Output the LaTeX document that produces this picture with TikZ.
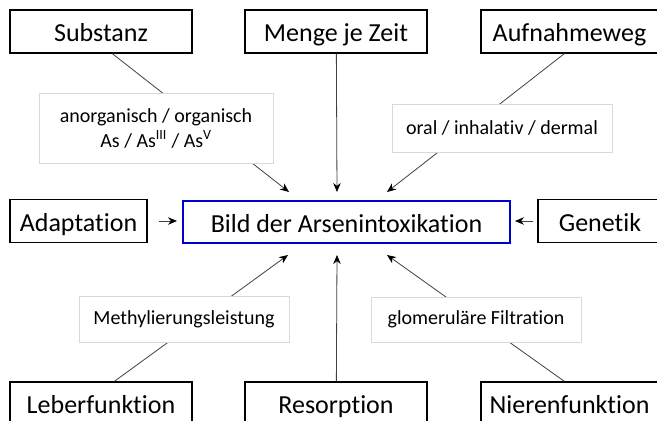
\documentclass[tikz,border=0pt]{standalone}
\usepackage{fontspec}
\setmainfont{Carlito}[Ligatures=NoCommon]
\usetikzlibrary{arrows.meta,calc}
\definecolor{conn}{HTML}{404040}
\definecolor{bluebox}{HTML}{0000CC}
\definecolor{annot}{HTML}{D9D9D9}
\tikzset{
 mainbox/.style={draw=black, line width=1.3pt, minimum height=43pt, inner sep=0pt, font=\fontsize{26}{31}\selectfont, text height=24pt, text depth=4pt},
 centerbox/.style={mainbox, draw=bluebox, line width=2pt},
 notebox/.style={draw=annot, line width=0.8pt, fill=white, inner sep=0pt, font=\fontsize{20}{25}\selectfont, align=center},
 conline/.style={draw=conn, line width=0.8pt},
 conarrow/.style={conline, -{Stealth[length=9pt,width=7.5pt,color=black]}},
}
\begin{document}
\begin{tikzpicture}[x=1pt,y=-1pt]
\useasboundingbox (0,0) rectangle (657,421);
\clip (0,0) rectangle (657,421);
% main boxes
\node[mainbox, minimum width=182pt] (subst) at (101,31.5) {Substanz};
\node[mainbox, minimum width=182pt] (menge) at (336,31.5) {Menge je Zeit};
\node[mainbox, minimum width=177pt] (aufn) at (569.5,31.5) {Aufnahmeweg};
\node[mainbox, minimum width=137pt] (adapt) at (78.5,221) {Adaptation};
\node[centerbox, minimum width=327pt, minimum height=42pt] (bild) at (346.5,222) {Bild der Arsenintoxikation};
\node[mainbox, minimum width=124pt] (gen) at (600,221) {Genetik};
\node[mainbox, minimum width=182pt] (leber) at (101,403.5) {Leberfunktion};
\node[mainbox, minimum width=182pt] (resorp) at (336,403.5) {Resorption};
\node[mainbox, minimum width=177pt] (nieren) at (569.5,403.5) {Nierenfunktion};
% arrow tips
\coordinate (tTL) at (289,192);
\coordinate (tTM) at (337,192);
\coordinate (tTR) at (387,192);
\coordinate (tBL) at (288,255);
\coordinate (tBM) at (337,255);
\coordinate (tBR) at (387,255);
\coordinate (tL) at (177,221);
\coordinate (tR) at (515,221);
% connectors
\draw[conarrow] ($(subst.south west)+(103,0)$) -- (tTL);
\draw[conarrow] ($(menge.south west)+(92,0)$) -- (tTM);
\draw[conarrow] ($(aufn.south west)+(84,0)$) -- (tTR);
\draw[conarrow] ($(adapt.east)+(11,0)$) -- (tL);
\draw[conarrow] ($(gen.west)+(-4,0)$) -- (tR);
\draw[conarrow] ($(leber.north west)+(105,0)$) -- (tBL);
\draw[conarrow] ($(resorp.north west)+(92,0)$) -- (tBM);
\draw[conarrow] ($(nieren.north west)+(84,0)$) -- (tBR);
% annotation boxes
\node[notebox, minimum width=234pt, minimum height=70pt] (n1) at (156,128) {anorganisch / organisch\\As / As\textsuperscript{III} / As\textsuperscript{V}};
\node[notebox, minimum width=220pt, minimum height=48pt] (n2) at (502,128) {oral / inhalativ / dermal};
\node[notebox, minimum width=210pt, minimum height=46pt] (n3) at (184,319) {Methylierungsleistung};
\node[notebox, minimum width=210pt, minimum height=45pt] (n4) at (476,319.5) {glomeruläre Filtration};
\end{tikzpicture}
\end{document}
